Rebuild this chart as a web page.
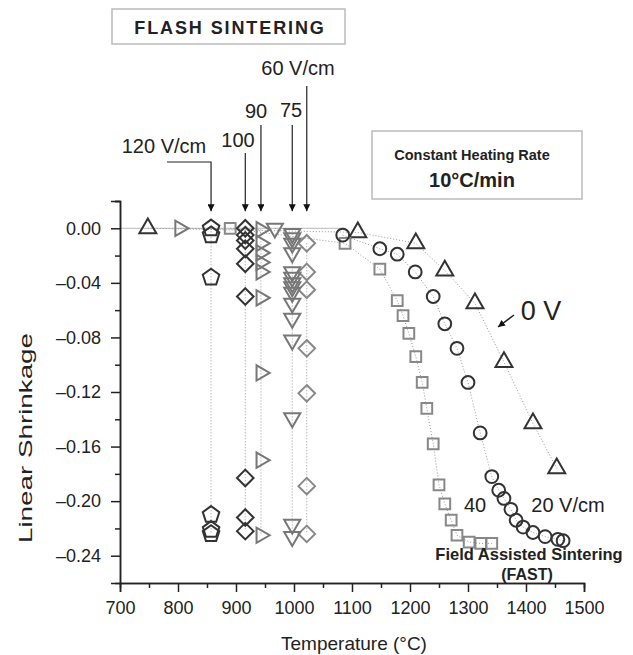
<!DOCTYPE html>
<html>
<head>
<meta charset="utf-8">
<script src="https://cdn.jsdelivr.net/npm/d3@7"></script>
<style>
  body { margin: 0; background: #fff; }
  text { font-family: "Liberation Sans", Arial, sans-serif; fill: #222; }
</style>
</head>
<body>
<div id="chart"></div>
<script>
// Data
var temp0V = [748, 1110, 1210, 1260, 1312, 1362, 1412, 1453]
var shrink0V = [0, -0.003, -0.011, -0.031, -0.055, -0.098, -0.143, -0.176]

var temp20 = [1084, 1148, 1178, 1209, 1240, 1260, 1281, 1300, 1321, 1341, 1353, 1362, 1374, 1383, 1395, 1412, 1433, 1455, 1464]
var shrink20 = [-0.005, -0.015, -0.019, -0.032, -0.05, -0.07, -0.088, -0.113, -0.15, -0.182, -0.192, -0.198, -0.206, -0.214, -0.219, -0.223, -0.226, -0.228, -0.229]

var temp40 = [890, 1088, 1148, 1178, 1188, 1198, 1210, 1221, 1229, 1240, 1250, 1260, 1271, 1281, 1302, 1322, 1341]
var shrink40 = [0, -0.011, -0.03, -0.053, -0.064, -0.077, -0.094, -0.113, -0.132, -0.158, -0.188, -0.202, -0.214, -0.225, -0.23, -0.231, -0.231]

var temp60 = [1022, 1022, 1022, 1022, 1022, 1022, 1022]
var shrink60 = [-0.011, -0.032, -0.045, -0.088, -0.121, -0.189, -0.224]

var temp75 = [967, 997, 997, 997, 997, 997, 997, 997, 997, 997, 997, 997, 997, 997, 997, 997]
var shrink75 = [0, -0.004, -0.007, -0.011, -0.018, -0.032, -0.036, -0.04, -0.043, -0.047, -0.055, -0.066, -0.082, -0.139, -0.217, -0.226]

var temp90 = [803, 943, 943, 943, 943, 943, 943, 943, 943, 943]
var shrink90 = [0, -0.001, -0.011, -0.018, -0.025, -0.032, -0.051, -0.106, -0.17, -0.225]

var temp100 = [916, 916, 916, 916, 916, 916, 916, 916, 916]
var shrink100 = [0, -0.005, -0.009, -0.015, -0.026, -0.05, -0.183, -0.212, -0.222]

var temp120 = [857, 857, 857, 857, 857, 857]
var shrink120 = [0, -0.005, -0.036, -0.21, -0.221, -0.224]

var xTicks = [700, 800, 900, 1000, 1100, 1200, 1300, 1400, 1500]
var yTicks = [0, -0.04, -0.08, -0.12, -0.16, -0.2, -0.24]

var series = [
  { name: '0 V', temps: temp0V, values: shrink0V, shape: 'triUp', color: '#333' },
  { name: '40 V/cm', temps: temp40, values: shrink40, shape: 'square', color: '#888' },
  { name: '20 V/cm', temps: temp20, values: shrink20, shape: 'circle', color: '#333' },
  { name: '60 V/cm', temps: temp60, values: shrink60, shape: 'diamond', color: '#888' },
  { name: '75 V/cm', temps: temp75, values: shrink75, shape: 'triDown', color: '#777' },
  { name: '90 V/cm', temps: temp90, values: shrink90, shape: 'triRight', color: '#777' },
  { name: '100 V/cm', temps: temp100, values: shrink100, shape: 'diamond', color: '#333' },
  { name: '120 V/cm', temps: temp120, values: shrink120, shape: 'pentagon', color: '#333' }
]

// Set up margin/height/width
var margin = { top: 201, left: 120, right: 49, bottom: 72 }
var width = 633 - margin.left - margin.right
var height = 655 - margin.top - margin.bottom

var svg = d3
  .select('#chart')
  .append('svg')
  .attr('width', 633)
  .attr('height', 655)

var g = svg.append('g').attr('transform', `translate(${margin.left}, ${margin.top})`)

var xPositionScale = d3
  .scaleLinear()
  .domain([700, 1500])
  .range([0, width])
var yPositionScale = d3
  .scaleLinear()
  .domain([-0.26, 0.02])
  .range([height, 0])

// marker shapes
function polygon(n, r, rot) {
  var pts = d3.range(n).map(function(i) {
    var a = rot + (i * 2 * Math.PI) / n
    return [r * Math.cos(a), r * Math.sin(a)]
  })
  return 'M' + pts.join('L') + 'Z'
}
var shapes = {
  triUp: polygon(3, 9.8, -Math.PI / 2),
  triDown: polygon(3, 9.3, Math.PI / 2),
  triRight: polygon(3, 8.8, 0),
  diamond: polygon(4, 8.3, -Math.PI / 2),
  square: polygon(4, 7.6, Math.PI / 4),
  pentagon: polygon(5, 8.7, -Math.PI / 2),
  circle: d3.symbol().type(d3.symbolCircle).size(Math.PI * 6.4 * 6.4)()
}

// zero reference line
g.append('line')
  .attr('x1', 0)
  .attr('x2', xPositionScale(1090))
  .attr('y1', yPositionScale(0))
  .attr('y2', yPositionScale(0))
  .attr('stroke', '#bbb')
  .attr('stroke-width', 1)

var line = d3
  .line()
  .x(d => xPositionScale(d[0]))
  .y(d => yPositionScale(d[1]))

series.forEach(function(s) {
  var pts = s.temps.map((t, i) => [t, s.values[i]])
  g.append('path')
    .datum(pts)
    .attr('d', line)
    .attr('fill', 'none')
    .attr('stroke', '#999')
    .attr('stroke-width', 1)
    .attr('stroke-dasharray', '1,2')
})

series.forEach(function(s) {
  var pts = s.temps.map((t, i) => [t, s.values[i]])
  g.selectAll(null)
    .data(pts)
    .enter()
    .append('path')
    .attr('d', shapes[s.shape])
    .attr('transform', d => `translate(${xPositionScale(d[0])}, ${yPositionScale(d[1])})`)
    .attr('fill', 'none')
    .attr('stroke', s.color)
    .attr('stroke-width', 2)
})

// axes
var xAxis = d3
  .axisBottom(xPositionScale)
  .tickValues(xTicks)
  .tickSize(9)
  .tickFormat(d3.format('d'))
g.append('g')
  .attr('class', 'axis x-axis')
  .attr('transform', `translate(0, ${height})`)
  .call(xAxis)
var xMinor = d3
  .axisBottom(xPositionScale)
  .tickValues(d3.range(750, 1500, 100))
  .tickSize(5)
  .tickFormat('')
g.append('g')
  .attr('class', 'axis minor')
  .attr('transform', `translate(0, ${height})`)
  .call(xMinor)

var yAxis = d3
  .axisLeft(yPositionScale)
  .tickValues(yTicks)
  .tickSize(9)
  .tickFormat(d => (d === 0 ? '0.00' : '\u2013' + d3.format('.2f')(-d)))
g.append('g')
  .attr('class', 'axis y-axis')
  .call(yAxis)
var yMinor = d3
  .axisLeft(yPositionScale)
  .tickValues([0.02, -0.02, -0.06, -0.1, -0.14, -0.18, -0.22])
  .tickSize(5)
  .tickFormat('')
g.append('g')
  .attr('class', 'axis minor')
  .call(yMinor)

g.selectAll('.axis path').attr('stroke', '#222').attr('stroke-width', 1.5)
g.selectAll('.axis line').attr('stroke', '#222').attr('stroke-width', 1.5)
g.selectAll('.axis text')
  .attr('font-size', 18)
  .attr('fill', '#222')
  .style('font-family', '"Liberation Sans", Arial, sans-serif')
g.selectAll('.x-axis text').attr('dy', '1.05em')
g.selectAll('.y-axis text').attr('x', -19)

// axis titles
svg
  .append('text')
  .text('Temperature (\u00b0C)')
  .attr('x', 354)
  .attr('y', 650)
  .attr('font-size', 19)
  .attr('text-anchor', 'middle')

svg
  .append('text')
  .text('Linear Shrinkage')
  .attr('transform', 'translate(32, 438) rotate(-90)')
  .attr('font-size', 19)
  .attr('text-anchor', 'middle')
  .attr('textLength', 210)
  .attr('lengthAdjust', 'spacingAndGlyphs')

// boxes
svg
  .append('rect')
  .attr('x', 112)
  .attr('y', 9)
  .attr('width', 233)
  .attr('height', 35)
  .attr('fill', 'none')
  .attr('stroke', '#bbb')
  .attr('stroke-width', 1.5)
svg
  .append('text')
  .text('FLASH SINTERING')
  .attr('x', 230)
  .attr('y', 34)
  .attr('font-size', 18)
  .attr('font-weight', 'bold')
  .attr('letter-spacing', 1.9)
  .attr('text-anchor', 'middle')

svg
  .append('rect')
  .attr('x', 372)
  .attr('y', 131)
  .attr('width', 210)
  .attr('height', 68)
  .attr('fill', 'none')
  .attr('stroke', '#bbb')
  .attr('stroke-width', 1.5)
svg
  .append('text')
  .text('Constant Heating Rate')
  .attr('x', 472)
  .attr('y', 160)
  .attr('font-size', 14.5)
  .attr('font-weight', 'bold')
  .attr('text-anchor', 'middle')
svg
  .append('text')
  .text('10\u00b0C/min')
  .attr('x', 472)
  .attr('y', 187)
  .attr('font-size', 20)
  .attr('font-weight', 'bold')
  .attr('text-anchor', 'middle')

// arrows for flash sintering labels
svg
  .append('defs')
  .append('marker')
  .attr('id', 'head')
  .attr('viewBox', '0 0 10 10')
  .attr('refX', 10)
  .attr('refY', 5)
  .attr('markerWidth', 7)
  .attr('markerHeight', 7)
  .attr('markerUnits', 'userSpaceOnUse')
  .attr('orient', 'auto')
  .append('path')
  .attr('d', 'M0,0L10,5L0,10Z')
  .attr('fill', '#111')

var tipY = margin.top + yPositionScale(0) - 17
var flashLabels = [
  { text: '60 V/cm', temp: 1022, lx: 298, ly: 75, top: 86 },
  { text: '75', temp: 997, lx: 291, ly: 117, top: 125 },
  { text: '90', temp: 943, lx: 256, ly: 118, top: 125 },
  { text: '100', temp: 916, lx: 238, ly: 147, top: 153 },
  { text: '120 V/cm', temp: 857, lx: 164, ly: 153, top: 162 }
]
flashLabels.forEach(function(f) {
  var x = margin.left + xPositionScale(f.temp)
  var d = 'M' + x + ',' + f.top + 'L' + x + ',' + tipY
  if (f.text === '120 V/cm') d = 'M167,' + f.top + 'L' + x + ',' + f.top + 'L' + x + ',' + tipY
  svg
    .append('path')
    .attr('d', d)
    .attr('fill', 'none')
    .attr('stroke', '#222')
    .attr('stroke-width', 1.2)
    .attr('marker-end', 'url(#head)')
  svg
    .append('text')
    .text(f.text)
    .attr('x', f.lx)
    .attr('y', f.ly)
    .attr('font-size', 20)
    .attr('text-anchor', 'middle')
})

// labels on the FAST curves
svg
  .append('text')
  .text('0 V')
  .attr('x', 541)
  .attr('y', 320)
  .attr('font-size', 27)
  .attr('text-anchor', 'middle')
svg
  .append('path')
  .attr('d', 'M514,315L498,327')
  .attr('stroke', '#222')
  .attr('stroke-width', 1.5)
  .attr('marker-end', 'url(#head)')

svg
  .append('text')
  .text('40')
  .attr('x', 475)
  .attr('y', 512)
  .attr('font-size', 20)
  .attr('text-anchor', 'middle')
svg
  .append('text')
  .text('20 V/cm')
  .attr('x', 568)
  .attr('y', 512)
  .attr('font-size', 20)
  .attr('text-anchor', 'middle')
svg
  .append('text')
  .text('Field Assisted Sintering')
  .attr('x', 529)
  .attr('y', 560)
  .attr('font-size', 16.5)
  .attr('font-weight', 'bold')
  .attr('text-anchor', 'middle')
svg
  .append('text')
  .text('(FAST)')
  .attr('x', 527)
  .attr('y', 580)
  .attr('font-size', 16)
  .attr('font-weight', 'bold')
  .attr('text-anchor', 'middle')
</script>
</body>
</html>
